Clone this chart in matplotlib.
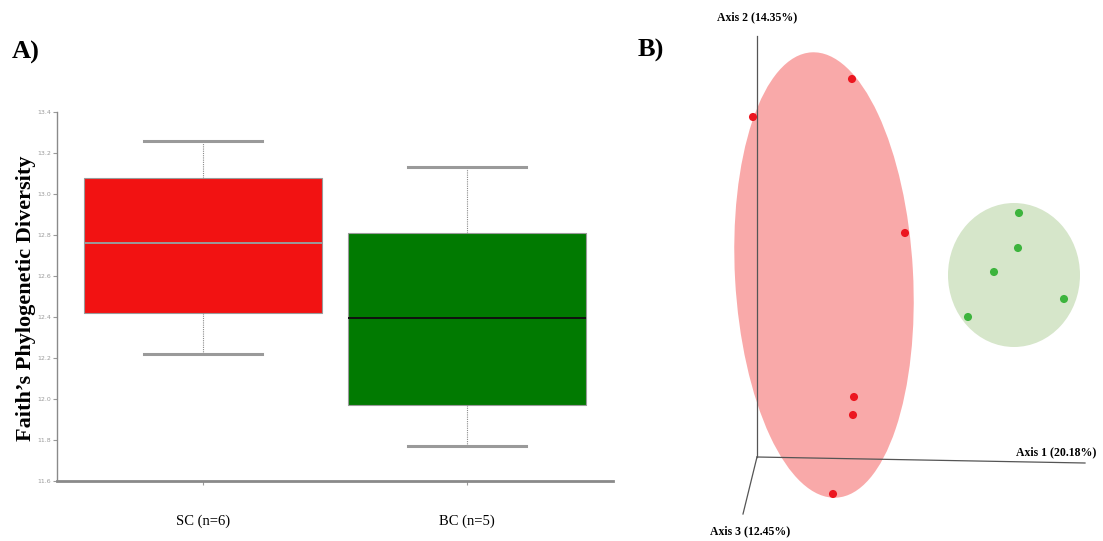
import matplotlib
matplotlib.use("Agg")
import matplotlib.pyplot as plt
from matplotlib.patches import Ellipse
import numpy as np

# ---------------- data ----------------
groups = ["SC (n=6)", "BC (n=5)"]
box_colors = ["#F21212", "#017A01"]
median_colors = ["#9a9a9a", "#111111"]
whislo = [12.22, 11.77]
q1 = [12.42, 11.97]
med = [12.76, 12.395]
q3 = [13.08, 12.81]
whishi = [13.26, 13.13]
yticks = [11.6, 11.8, 12.0, 12.2, 12.4, 12.6, 12.8, 13.0, 13.2, 13.4]

# PCoA projected coordinates (2D projection of 3D axes)
sc_x = [-4, 95, 148, 97, 96, 76]
sc_y = [340, 378, 224, 60, 42, -37]
bc_x = [262, 261, 237, 307, 211]
bc_y = [244, 209, 185, 158, 140]
axis_labels = ["Axis 1 (20.18%)", "Axis 2 (14.35%)", "Axis 3 (12.45%)"]

plt.rcParams['font.family'] = ['Liberation Serif', 'DejaVu Serif']

W, H = 1103, 541
fig = plt.figure(figsize=(W / 100, H / 100), dpi=100)

# ---------------- panel A ----------------
ax = fig.add_axes([57 / W, 1 - 481 / H, (613 - 57) / W, (481 - 112) / H])
stats = []
for i in range(2):
    stats.append(dict(med=med[i], q1=q1[i], q3=q3[i], whislo=whislo[i], whishi=whishi[i], label=groups[i]))
bp = ax.bxp(stats, positions=[1, 2], widths=0.905, patch_artist=True, showfliers=False,
            whiskerprops=dict(color="#8a8a8a", linestyle=(0, (1, 1)), linewidth=0.8),
            capprops=dict(color="#9a9a9a", linewidth=2.2), capwidths=0.45)
for i, b in enumerate(bp['boxes']):
    b.set_facecolor(box_colors[i])
    b.set_edgecolor("#9a9a9a")
    b.set_linewidth(0.8)
for i, m in enumerate(bp['medians']):
    m.set_color(median_colors[i])
    m.set_linewidth(1.4)
ax.set_xlim(0.447, 2.553)
ax.set_ylim(11.6, 13.4)
ax.set_yticks(yticks)
ax.set_yticklabels([f"{v:.1f}" for v in yticks], fontsize=4.5, color="#9a9a9a", family="DejaVu Sans")
ax.tick_params(axis='y', length=3, color="#9a9a9a", width=0.8, pad=1)
ax.tick_params(axis='x', length=3, color="#9a9a9a", width=0.8, labelsize=10.5, pad=21)
ax.spines['top'].set_visible(False)
ax.spines['right'].set_visible(False)
ax.spines['left'].set_color("#8a8a8a")
ax.spines['left'].set_linewidth(1.0)
ax.spines['bottom'].set_color("#8a8a8a")
ax.spines['bottom'].set_linewidth(2.0)
fig.text(26 / W, 1 - 298 / H, "Faith\u2019s Phylogenetic Diversity", rotation=90, fontsize=16,
         fontweight='bold', ha='center', va='center')
fig.text(12 / W, 1 - 52 / H, "A)", fontsize=19, fontweight='bold', ha='left', va='center')

# ---------------- panel B ----------------
ax2 = fig.add_axes([690 / W, 0, (W - 690) / W, 1])
ax2.set_xlim(690 - 757, W - 757)
ax2.set_ylim(457 - H, 457)
ax2.axis('off')

ax2.add_patch(Ellipse((67, 182), 178, 446, angle=3.2, facecolor="#F9A9A9", edgecolor='none', zorder=1))
ax2.add_patch(Ellipse((257, 182), 132, 144, facecolor="#D6E6CA", edgecolor='none', zorder=1))

ax2.plot([0, 0], [0, 421], color="#555555", lw=0.9, zorder=2)
ax2.plot([0, 328], [0, -6], color="#555555", lw=0.9, zorder=2)
ax2.plot([0, -14], [0, -57], color="#555555", lw=0.9, zorder=2)

ax2.scatter(sc_x, sc_y, s=34, color="#EC1620", edgecolors='none', zorder=3)
ax2.scatter(bc_x, bc_y, s=34, color="#3DB43D", edgecolors='none', zorder=3)

ax2.text(0, 440, axis_labels[1], fontsize=8.5, fontweight='bold', ha='center', va='center')
ax2.text(339, 5, axis_labels[0], fontsize=8.5, fontweight='bold', ha='right', va='center')
ax2.text(-7, -74, axis_labels[2], fontsize=8.5, fontweight='bold', ha='center', va='center')
fig.text(638 / W, 1 - 50 / H, "B)", fontsize=19, fontweight='bold', ha='left', va='center')

fig.savefig("out.png", dpi=100)
